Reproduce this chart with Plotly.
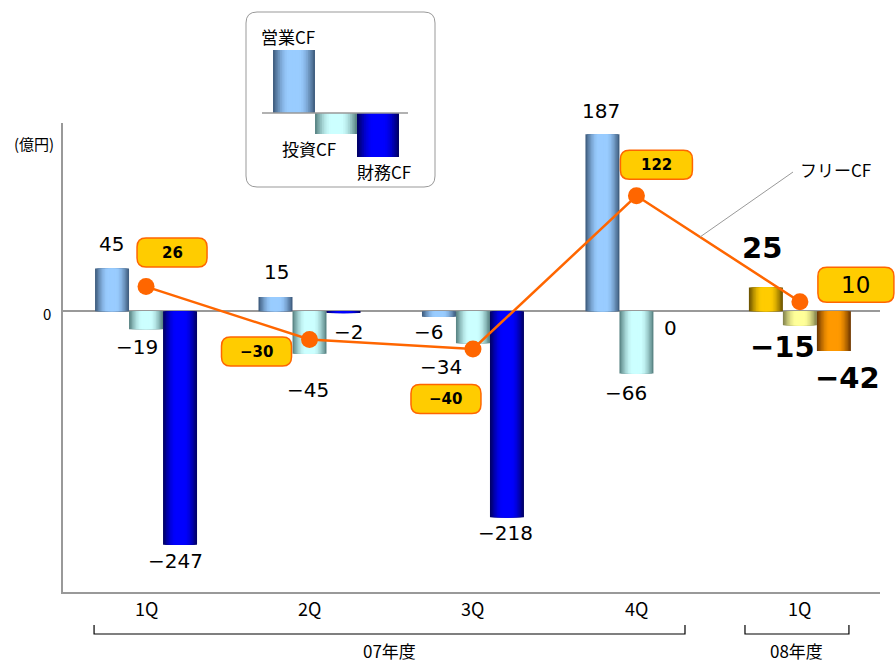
import math
import plotly.graph_objects as go

# ---- data (億円) ----
quarters = ["1Q", "2Q", "3Q", "4Q", "1Q"]
fiscal_years = ["07年度", "08年度"]
operating_cf = [45, 15, -6, 187, 25]
investing_cf = [-19, -45, -34, -66, -15]
financing_cf = [-247, -2, -218, 0, -42]
free_cf = [26, -30, -40, 122, 10]

FONT = "Noto Sans CJK JP"
NUM_FONT = "DejaVu Sans"
ORANGE = "#FF6600"
GOLD = "#FFCC00"
AXIS_GREY = "#999999"

xs = list(range(len(quarters)))
X_RANGE = [-0.508, 4.49]
Y_RANGE = [-297, 199]
BAR_W = 0.208
LAYERS = 12

# (dark edge, bright centre) colour pairs: FY07 quarters, then FY08
palettes = {
    "op": [((66, 96, 130), (153, 204, 255))] * 4 + [((112, 86, 0), (255, 204, 0))],
    "inv": [((92, 135, 135), (204, 255, 255))] * 4 + [((135, 135, 80), (255, 255, 153))],
    "fin": [((0, 0, 105), (0, 0, 255))] * 4 + [((115, 58, 0), (255, 153, 0))],
}


def mix(dark, light, f):
    return "rgb({},{},{})".format(*[round(d + (l - d) * f) for d, l in zip(dark, light)])


def shade(k):
    t = min(1.0, (k / LAYERS) * 1.35)
    return math.sin(math.pi / 2 * t)


series = [
    ("op", operating_cf, -BAR_W),
    ("inv", investing_cf, 0.0),
    ("fin", financing_cf, BAR_W),
]

fig = go.Figure()

# cylinder-like bars: nested layers, widest/darkest first
for key, vals, centre in series:
    for k in range(LAYERS):
        frac = 1 - k / LAYERS
        w = BAR_W * frac
        cols = [mix(d, l, shade(k)) for d, l in palettes[key]]
        fig.add_trace(go.Bar(
            x=xs, y=vals, width=w, offset=centre - w / 2,
            marker=dict(color=cols, line=dict(width=0)),
            hoverinfo="skip", showlegend=False,
        ))

# free cash flow line
fig.add_trace(go.Scatter(
    x=xs, y=free_cf, mode="lines+markers",
    line=dict(color=ORANGE, width=2.5),
    marker=dict(size=17, color=ORANGE),
    hoverinfo="skip", showlegend=False,
))


def fmt(v):
    return str(v).replace("-", "\u2212")


annotations = []
shapes = []

# value labels, pixel offsets from each bar end
label_offsets = {
    "op": [(-1, 25), (1, 25), (-10, -15), (-1, 23), (-4, 40)],
    "inv": [(-9, -18), (-2, -36), (-32, -24), (-10, -19), (-17, -22)],
    "fin": [(-5, -16), (5, -19), (-1, -16), (0, -17), (14, -27)],
}
for key, vals, centre in series:
    for i, v in enumerate(vals):
        dx, dy = label_offsets[key][i]
        big = i == 4
        annotations.append(dict(
            x=xs[i] + centre, y=v, xref="x", yref="y", text=fmt(v),
            showarrow=False, xshift=dx, yshift=dy,
            xanchor="center", yanchor="middle",
            font=dict(family=NUM_FONT, size=29 if big else 20, color="black",
                      weight="bold" if big else "normal"),
        ))


def rrect(cx, cy, w, h, r):
    x0, x1 = cx - w / 2, cx + w / 2
    y0, y1 = cy - h / 2, cy + h / 2
    return (f"M {x0 + r},{y0} L {x1 - r},{y0} Q {x1},{y0} {x1},{y0 + r} "
            f"L {x1},{y1 - r} Q {x1},{y1} {x1 - r},{y1} L {x0 + r},{y1} "
            f"Q {x0},{y1} {x0},{y1 - r} L {x0},{y0 + r} Q {x0},{y0} {x0 + r},{y0} Z")


def to_paper_x(x):
    return (x - X_RANGE[0]) / (X_RANGE[1] - X_RANGE[0])


# free CF value boxes (anchored horizontally in paper space so they may overhang)
box_offsets = [(26, 34), (-53, -12), (-27, -50), (20, 31), (56, 17)]
box_sizes = [(70, 29), (70, 29), (70, 29), (72, 29), (76, 35)]
for i, v in enumerate(free_cf):
    dx, dy = box_offsets[i]
    bw, bh = box_sizes[i]
    shapes.append(dict(
        type="path", xref="paper", yref="y", xsizemode="pixel", ysizemode="pixel",
        xanchor=to_paper_x(xs[i]), yanchor=v, path=rrect(dx, dy, bw, bh, 9),
        fillcolor=GOLD, line=dict(color=ORANGE, width=1.5), layer="above",
    ))
    big = i == 4
    annotations.append(dict(
        x=xs[i], y=v, xref="x", yref="y", text=fmt(v), showarrow=False,
        xshift=dx, yshift=dy, xanchor="center", yanchor="middle",
        font=dict(family=NUM_FONT, size=23 if big else 15, color="black",
                  weight="normal" if big else "bold"),
    ))

# page-pixel helpers anchored on the plot's lower-left corner
PL, PB = 63, 592


def px_shape(path, **kw):
    d = dict(type="path", xref="paper", yref="paper", xsizemode="pixel",
             ysizemode="pixel", xanchor=0, yanchor=0, path=path, layer="above")
    d.update(kw)
    return d


def px_rect(x0, y0, x1, y1):
    return rrect((x0 + x1) / 2 - PL, PB - (y0 + y1) / 2, x1 - x0, y1 - y0, 0.001)


def px_text(text, x, y, size, **kw):
    d = dict(xref="paper", yref="paper", x=0, y=0, xshift=x - PL, yshift=PB - y,
             text=text, showarrow=False, xanchor="center", yanchor="middle",
             font=dict(family=FONT, size=size, color="black"))
    d.update(kw)
    return d


# legend panel
shapes.append(px_shape(rrect((246 + 435) / 2 - PL, PB - (12 + 187) / 2, 189, 175, 11),
                       fillcolor="white", line=dict(color=AXIS_GREY, width=1)))
legend_bars = [("op", 273, 315, 50, 113), ("inv", 315, 357, 113, 134), ("fin", 357, 399, 113, 157)]
for key, x0, x1, y0, y1 in legend_bars:
    dark, light = palettes[key][0]
    for k in range(LAYERS):
        frac = 1 - k / LAYERS
        cx, w = (x0 + x1) / 2, (x1 - x0) * frac
        shapes.append(px_shape(px_rect(cx - w / 2, y0, cx + w / 2, y1),
                               fillcolor=mix(dark, light, shade(k)), line=dict(width=0)))
shapes.append(px_shape(f"M {262 - PL},{PB - 113} L {408 - PL},{PB - 113}",
                       line=dict(color=AXIS_GREY, width=1.5)))
annotations += [
    px_text("営業CF", 288, 36, 17),
    px_text("投資CF", 309, 148, 17),
    px_text("財務CF", 384, 171, 17),
]

# free CF callout
shapes.append(px_shape(f"M {700 - PL},{PB - 237} L {793 - PL},{PB - 172}",
                       line=dict(color=AXIS_GREY, width=1)))
annotations.append(px_text("フリーCF", 835, 169, 17))

# unit and zero labels
annotations.append(px_text("(億円)", 34, 143, 15))
annotations.append(px_text("0", 47, 313, 15))

# quarter labels
for i, q in enumerate(quarters):
    annotations.append(dict(x=xs[i], y=0, xref="x", yref="paper", text=q,
                            showarrow=False, yshift=-16, yanchor="middle",
                            font=dict(family=FONT, size=18, color="black")))

# fiscal-year brackets
brackets = [(-0.318, 3.297, 1.49), (3.664, 4.30, 3.98)]
for (a, b, mid), fy in zip(brackets, fiscal_years):
    shapes.append(dict(type="path", xref="x", yref="paper", ysizemode="pixel", yanchor=0,
                       path=f"M {a},-33 L {a},-42 L {b},-42 L {b},-33",
                       line=dict(color="black", width=1.2)))
    annotations.append(dict(x=mid, y=0, xref="x", yref="paper", text=fy, showarrow=False,
                            yshift=-58, yanchor="middle",
                            font=dict(family=FONT, size=17, color="black")))

fig.update_layout(
    width=895, height=662,
    margin=dict(l=PL, r=15, t=123, b=662 - PB),
    barmode="overlay",
    plot_bgcolor="white", paper_bgcolor="white",
    font=dict(family=FONT),
    xaxis=dict(range=X_RANGE, showgrid=False, zeroline=False,
               showline=True, linecolor=AXIS_GREY, linewidth=1.5,
               showticklabels=False, ticks="", fixedrange=True),
    yaxis=dict(range=Y_RANGE, showgrid=False, zeroline=True,
               zerolinecolor=AXIS_GREY, zerolinewidth=1.5,
               showline=True, linecolor=AXIS_GREY, linewidth=1.5,
               showticklabels=False, ticks="", fixedrange=True),
    shapes=shapes,
    annotations=annotations,
    showlegend=False,
)

fig.write_html("out.html")
